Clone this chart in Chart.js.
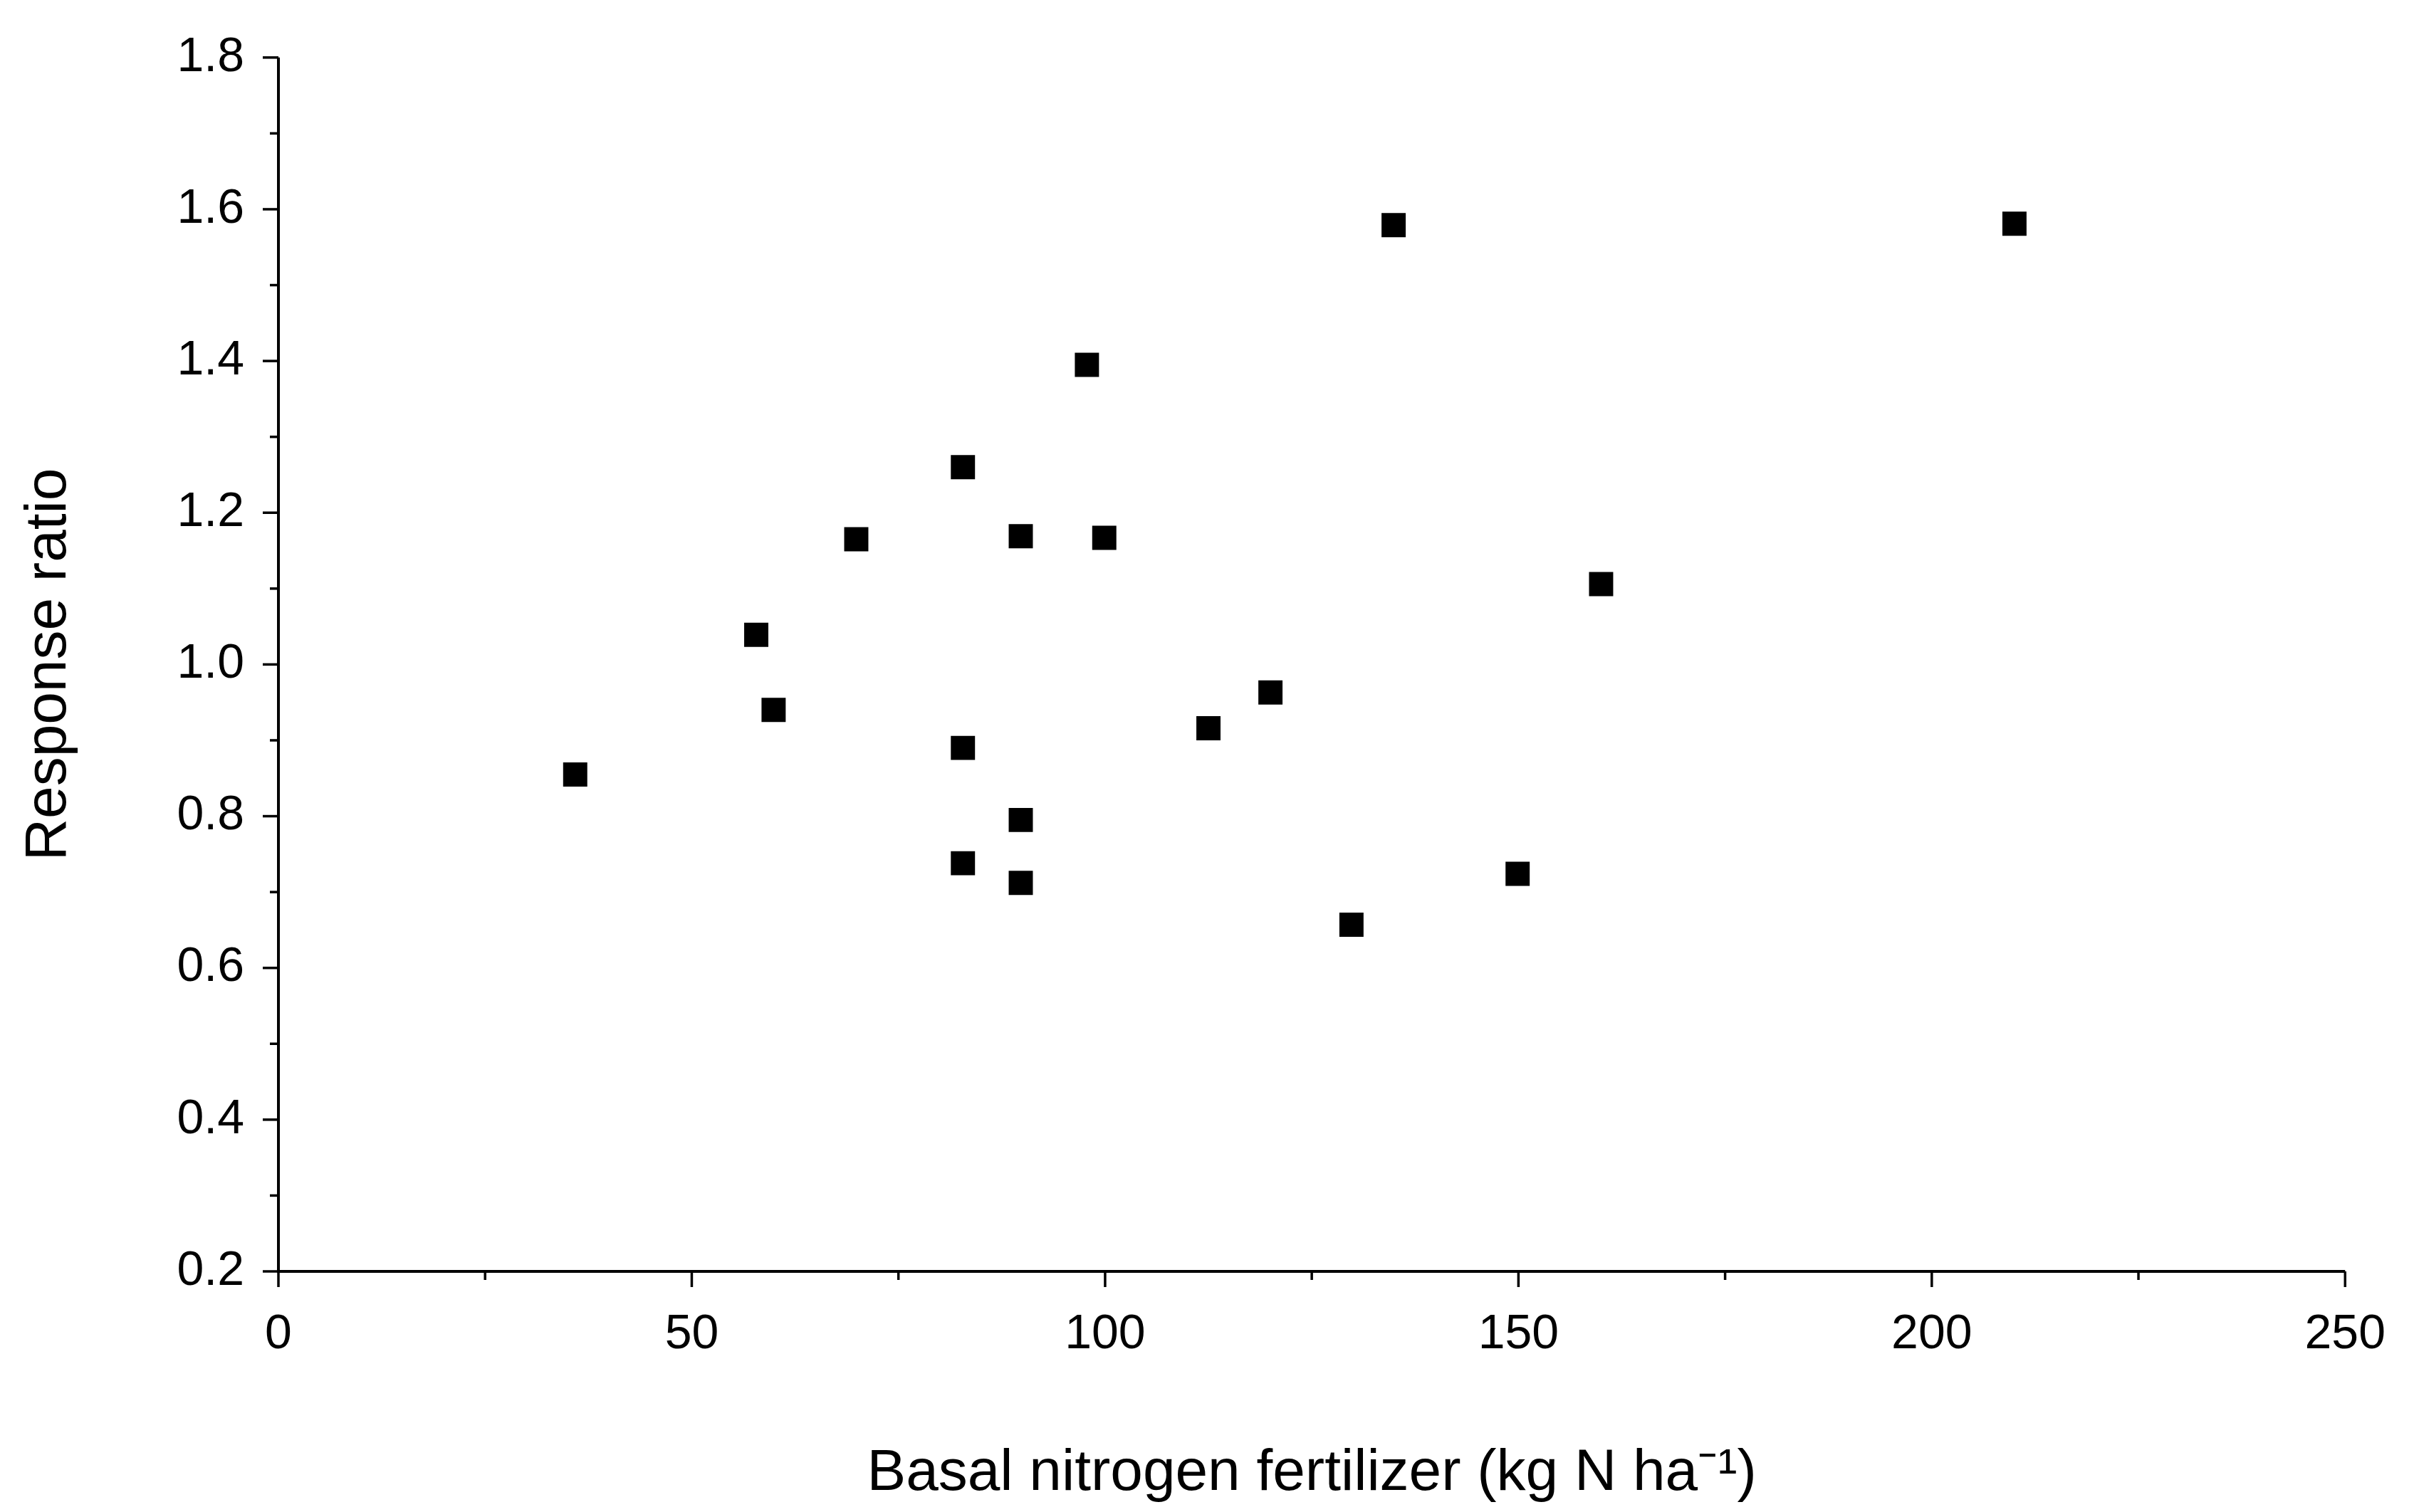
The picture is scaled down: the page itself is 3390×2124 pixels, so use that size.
<!DOCTYPE html>
<html><head><meta charset="utf-8">
<script src="https://cdn.jsdelivr.net/npm/chart.js@4"></script>
<style>html,body{margin:0;padding:0;background:#fff}#c{width:3390px;height:2124px;display:block}</style>
</head><body><canvas id="c" width="3390" height="2124"></canvas>
<script>
const xValues=[35.9,57.8,59.9,69.9,82.8,82.8,82.8,89.8,89.8,89.8,97.8,99.9,112.5,120,129.8,134.9,149.9,160,210];
const yValues=[0.855,1.039,0.940,1.165,1.260,0.890,0.738,1.169,0.795,0.712,1.395,1.167,0.916,0.963,0.657,1.579,0.724,1.106,1.581];
const xTicks=[0,50,100,150,200,250];
const yTicks=[0.2,0.4,0.6,0.8,1.0,1.2,1.4,1.6,1.8];
const FONT='"Liberation Sans", Arial, sans-serif';
const axesPlugin={id:'axes',afterDraw(ch){
  const c=ch.ctx,a=ch.chartArea,xs=ch.scales.x,ys=ch.scales.y;
  c.save();c.strokeStyle='#000';c.lineWidth=4;
  c.beginPath();c.moveTo(a.left,a.top);c.lineTo(a.left,a.bottom);c.lineTo(a.right,a.bottom);c.stroke();
  c.lineWidth=3.5;
  for(let v=0;v<=250;v+=25){const p=xs.getPixelForValue(v);const L=(v%50===0)?22:12;c.beginPath();c.moveTo(p,a.bottom);c.lineTo(p,a.bottom+L);c.stroke();}
  for(let i=2;i<=18;i++){const v=i/10;const p=ys.getPixelForValue(v);const L=(i%2===0)?22:12;c.beginPath();c.moveTo(a.left,p);c.lineTo(a.left-L,p);c.stroke();}
  c.restore();}};
new Chart(document.getElementById('c'),{type:'scatter',
 data:{datasets:[{data:xValues.map((x,i)=>({x,y:yValues[i]})),pointStyle:'rect',pointRadius:24,pointHoverRadius:24,backgroundColor:'#000',borderColor:'#000',borderWidth:0}]},
 options:{responsive:false,animation:false,devicePixelRatio:1,
  layout:{padding:{top:76,right:93,left:0,bottom:0}},
  plugins:{legend:{display:false},tooltip:{enabled:false}},
  scales:{
   x:{type:'linear',min:0,max:250,border:{display:false},grid:{display:false},
      afterFit(s){s.height=338;},
      afterBuildTicks(s){s.ticks=xTicks.map(v=>({value:v}));},
      ticks:{color:'#000',font:{family:FONT,size:68},padding:40,maxRotation:0},
      title:{display:true,text:'Basal nitrogen fertilizer (kg N ha\u207B\u00B9)',color:'#000',font:{family:FONT,size:82},padding:{top:50}}},
   y:{type:'linear',min:0.2,max:1.8,border:{display:false},grid:{display:false},
      afterFit(s){s.width=391;},
      afterBuildTicks(s){s.ticks=yTicks.map(v=>({value:v}));},
      ticks:{color:'#000',font:{family:FONT,size:68},padding:40,callback:v=>Number(v).toFixed(1)},
      title:{display:true,text:'Response ratio',color:'#000',font:{family:FONT,size:82},padding:{top:20,bottom:20}}}
  }},
 plugins:[axesPlugin]});
</script></body></html>
